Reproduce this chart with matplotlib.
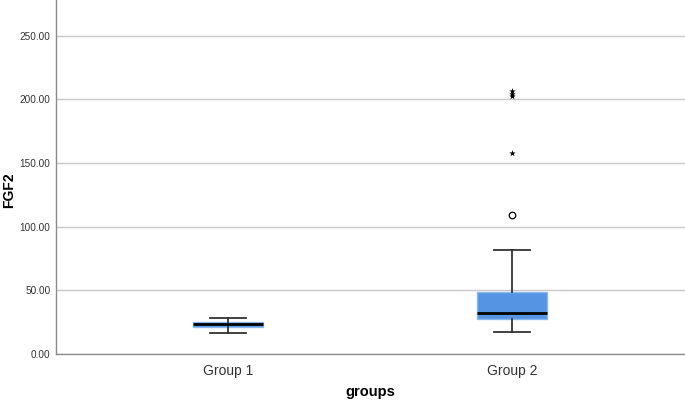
import matplotlib.pyplot as plt

groups = ["Group 1", "Group 2"]
q1 = [21.5, 27.5]
medians = [23.5, 32.0]
q3 = [25.5, 49.0]
whisker_low = [16.5, 17.0]
whisker_high = [28.5, 82.0]
mild_outliers = [[], [109.0]]
extreme_outliers = [[], [157.5, 202.5, 204.5, 206.5]]

plt.rcParams['font.family'] = ['Liberation Sans', 'DejaVu Sans']

fig = plt.figure(figsize=(6.85, 4.01), dpi=100)
ax = fig.add_axes([56 / 685, 47 / 401, 629 / 685, 354 / 401])

stats = []
for i, g in enumerate(groups):
    stats.append({
        "label": g, "med": medians[i], "q1": q1[i], "q3": q3[i],
        "whislo": whisker_low[i], "whishi": whisker_high[i], "fliers": [],
    })

positions = [1, 2]
ax.bxp(stats, positions=positions, widths=0.247, patch_artist=True,
       showfliers=False,
       boxprops=dict(facecolor="#5593e3", edgecolor="#8ab8f0", linewidth=1),
       medianprops=dict(color="black", linewidth=2),
       whiskerprops=dict(color="#333333", linewidth=1.3),
       capprops=dict(color="#333333", linewidth=1.3),
       capwidths=0.125, zorder=3)

for i, p in enumerate(positions):
    if mild_outliers[i]:
        ax.scatter([p] * len(mild_outliers[i]), mild_outliers[i], marker="o",
                   s=22, facecolors="white", edgecolors="black", linewidths=0.9, zorder=4)
    if extreme_outliers[i]:
        ax.scatter([p] * len(extreme_outliers[i]), extreme_outliers[i], marker="*",
                   s=24, color="black", linewidths=0, zorder=4)

# group 1 sits at x=228 px, group 2 at x=512 px
ax.set_xlim(0.394, 2.609)
ax.set_ylim(0, 278)
ax.set_yticks([0, 50, 100, 150, 200, 250])
ax.set_yticklabels([f"{v:.2f}" for v in [0, 50, 100, 150, 200, 250]])
ax.yaxis.grid(True, color="#c8c8c8", linewidth=1)
ax.set_axisbelow(True)

for s in ["top", "right"]:
    ax.spines[s].set_visible(False)
for s in ["left", "bottom"]:
    ax.spines[s].set_color("#8c8c8c")
    ax.spines[s].set_linewidth(1)

ax.tick_params(axis="y", length=0, labelsize=7.2, colors="#333333", pad=4)
ax.tick_params(axis="x", length=0, labelsize=10, colors="#333333", pad=7)
ax.set_xticks(positions)
ax.set_xticklabels(groups)

ax.set_xlabel("groups", fontsize=10.5, fontweight="bold", va="center")
ax.xaxis.set_label_coords(0.5, -(392 - 354) / 354)
ax.set_ylabel("FGF2", fontsize=10, fontweight="bold", va="center")
ax.yaxis.set_label_coords(-(56 - 9) / 629, 0.5 - (190 - 177) / 354)

fig.savefig("out.png", dpi=100)
